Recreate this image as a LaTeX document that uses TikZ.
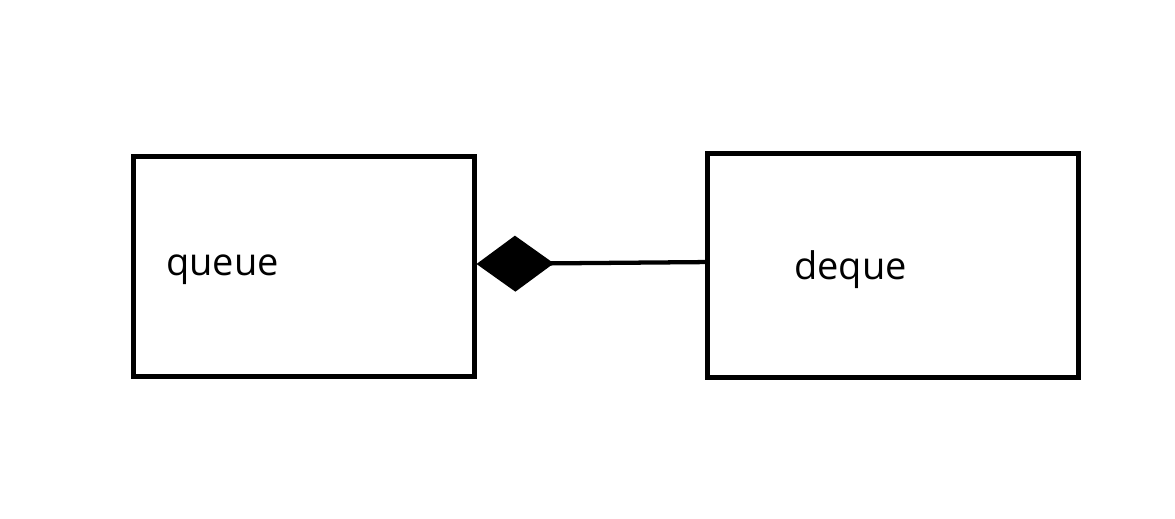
\documentclass[tikz,border=0pt]{standalone}
\usepackage{fontspec}
\setmainfont{Open Sans}
\usetikzlibrary{arrows.meta}
\begin{document}
\begin{tikzpicture}[x=0.75pt,y=-0.75pt,
  box/.style={draw=black,line width=3.75pt,rectangle,inner sep=0pt},
  lbl/.style={inner sep=0pt,anchor=base west,font=\fontsize{28.5pt}{34pt}\selectfont},
  comp/.style={line width=3.2pt,{Diamond[length=58pt,width=42pt,line width=0pt]}-}]
\useasboundingbox (0,0) rectangle (1175,518);
\node[box,minimum width=255.75pt,minimum height=165pt] (queue) at (303.5,266) {};
\node[box,minimum width=278.6pt,minimum height=168pt] (deque) at (893.25,265) {};
\node[lbl] (qlabel) at (166,275) {queue};
\node[lbl] (dlabel) at (794,279) {deque};
\draw[comp] ([yshift=1.5pt]queue.east) -- ([yshift=2.2pt]deque.west);
\end{tikzpicture}
\end{document}
